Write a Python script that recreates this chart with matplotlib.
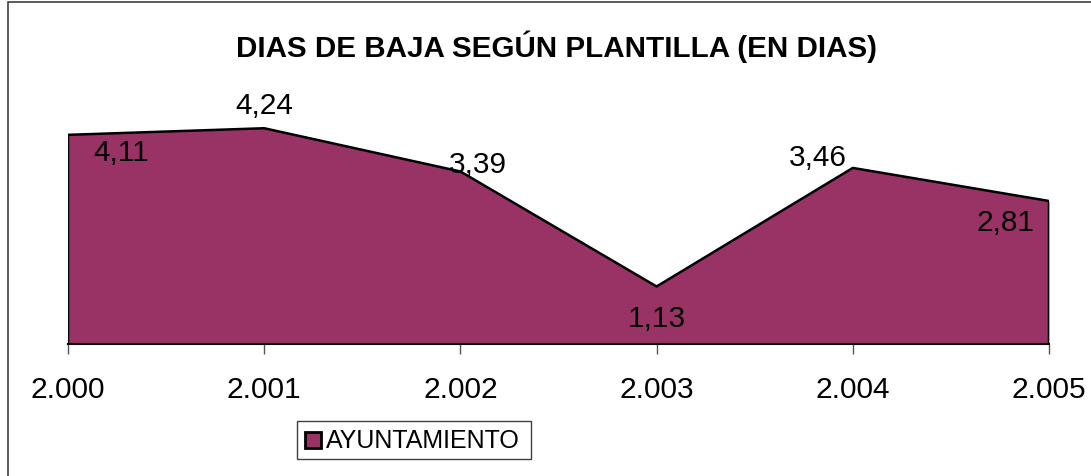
import matplotlib
matplotlib.use("Agg")
import matplotlib.pyplot as plt
from matplotlib.patches import Rectangle

years = ["2.000", "2.001", "2.002", "2.003", "2.004", "2.005"]
values = [4.11, 4.24, 3.39, 1.13, 3.46, 2.81]
labels = ["4,11", "4,24", "3,39", "1,13", "3,46", "2,81"]
series_name = "AYUNTAMIENTO"
title = "DIAS DE BAJA SEGÚN PLANTILLA (EN DIAS)"

W, H = 1091, 477
fig = plt.figure(figsize=(W / 100, H / 100), dpi=100)
plt.rcParams['font.family'] = ['Liberation Sans', 'DejaVu Sans']

# outer frame
fig.patches.append(Rectangle((8 / W, -0.1), 1.2, (H - 3) / H + 0.1, transform=fig.transFigure,
                             fill=False, edgecolor='#404040', linewidth=1.2))

left, right = 68 / W, 1049 / W
bottom, top = (H - 345) / H, (H - 116) / H
ax = fig.add_axes([left, bottom, right - left, top - bottom])
x = list(range(len(years)))
color = '#993366'
ax.fill_between(x, values, 0, color=color, linewidth=0, label=series_name)
ax.plot([x[0]] + x + [x[-1]], [0] + values + [0], color='black', linewidth=1.8)
ax.set_xlim(x[0], x[-1])
ax.set_ylim(0, 4.5)
ax.set_clip_on(False)
for s in ['top', 'right', 'left']:
    ax.spines[s].set_visible(False)
ax.spines['bottom'].set_linewidth(1.5)
ax.set_yticks([])
ax.set_xticks(x)
ax.set_xticklabels(years, fontsize=21.5)
ax.tick_params(axis='x', length=7, width=1, color='#555555', pad=15)

offsets = [(53, -17), (0, 23), (17, 7), (0, -32), (-35, 11), (-44, -21)]
for xi, v, lab, (dx, dy) in zip(x, values, labels, offsets):
    ax.annotate(lab, (xi, v), xytext=(dx, dy), textcoords='offset pixels',
                ha='center', va='center', fontsize=21.5, annotation_clip=False)

fig.text(556 / W, 1 - 47 / H, title, ha='center', va='center', fontsize=21.3, fontweight='bold')

# legend
lx0, ly0, lx1, ly1 = 297, 422, 531, 460
fig.patches.append(Rectangle((lx0 / W, 1 - ly1 / H), (lx1 - lx0) / W, (ly1 - ly0) / H,
                             transform=fig.transFigure, fill=True, facecolor='white',
                             edgecolor='#404040', linewidth=1))
fig.patches.append(Rectangle((305 / W, 1 - 449 / H), 16 / W, 16 / H, transform=fig.transFigure,
                             facecolor=color, edgecolor='black', linewidth=2))
fig.text(326 / W, 1 - 441 / H, series_name, ha='left', va='center', fontsize=18)

fig.savefig("out.png", dpi=100)
